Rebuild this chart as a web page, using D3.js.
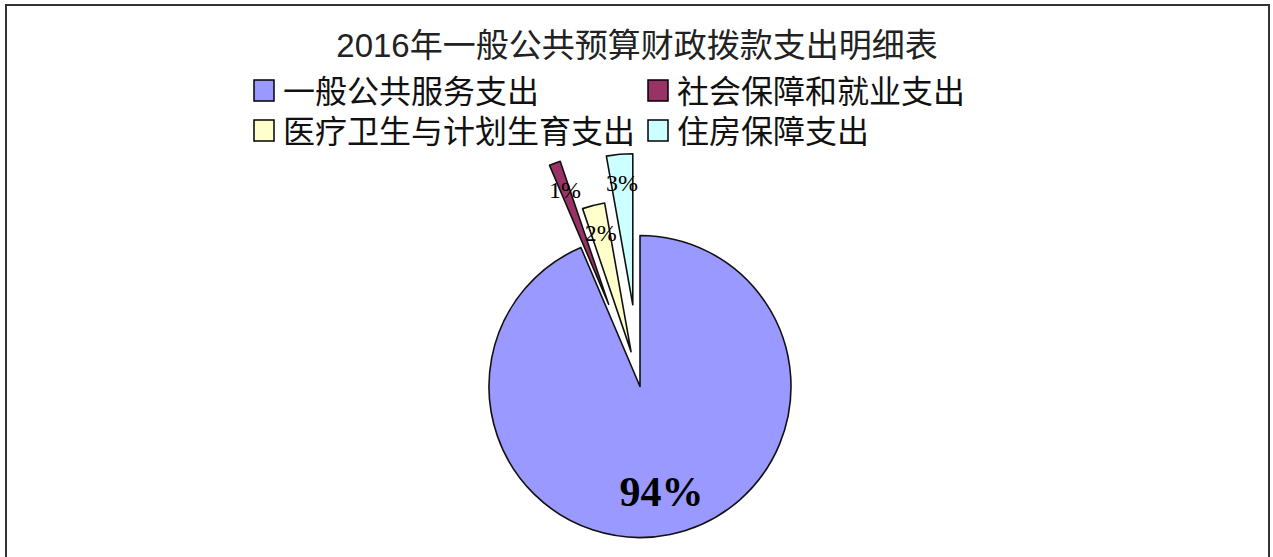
<!DOCTYPE html>
<html><head><meta charset="utf-8">
<script src="https://cdn.jsdelivr.net/npm/d3@7/dist/d3.min.js"></script>
<style>html,body{margin:0;padding:0;background:#fff;}svg{display:block;}</style>
</head><body>
<script>
const title = "2016年一般公共预算财政拨款支出明细表";
const categories = ["一般公共服务支出", "社会保障和就业支出", "医疗卫生与计划生育支出", "住房保障支出"];
const values = [93.6, 1.2, 2.4, 2.8];
const labels = ["94%", "1%", "2%", "3%"];
const colors = ["#9999FF", "#993366", "#FFFFCC", "#CCFFFF"];
const explode = [0, 88, 36, 82];

const W = 1273, H = 557;
const svg = d3.select("body").append("svg").attr("width", W).attr("height", H);
svg.append("rect").attr("width", W).attr("height", H).attr("fill", "#fff");

// frame
const frame = svg.append("g").attr("stroke", "#333").attr("stroke-width", 2).attr("fill", "none");
frame.append("path").attr("d", `M6,${H + 5} L6,5 L1269,5 L1269,${H + 5}`);

const cjk = "'Liberation Sans', 'Noto Sans CJK SC', sans-serif";

// title
svg.append("text").attr("x", 637).attr("y", 56.5).attr("text-anchor", "middle")
  .attr("font-family", cjk).attr("font-size", 33).attr("fill", "#222")
  .text(title);

// legend
const legX = [254, 648], legY = [80, 120];
const leg = svg.append("g");
categories.forEach((c, i) => {
  const x = legX[i % 2], y = legY[Math.floor(i / 2)];
  leg.append("rect").attr("x", x).attr("y", y).attr("width", 20).attr("height", 21)
    .attr("fill", colors[i]).attr("stroke", "#000").attr("stroke-width", 1.5);
  leg.append("text").attr("x", x + 29).attr("y", y + 22.5)
    .attr("font-family", cjk).attr("font-size", 32).attr("fill", "#111")
    .text(c);
});

// pie
const cx = 640, cy = 386.5, R = 151;
const pie = d3.pie().sort(null).value(d => d).startAngle(0).endAngle(2 * Math.PI);
const arcs = pie(values);
const arc = d3.arc().innerRadius(0).outerRadius(R);
const g = svg.append("g").attr("transform", `translate(${cx},${cy})`);
const off = (d, i) => {
  const a = (d.startAngle + d.endAngle) / 2;
  return [Math.sin(a) * explode[i], -Math.cos(a) * explode[i]];
};
g.selectAll("path.slice").data(arcs).enter().append("path")
  .attr("class", "slice")
  .attr("transform", (d, i) => { const o = off(d, i); return `translate(${o[0]},${o[1]})`; })
  .attr("d", arc)
  .attr("fill", (d, i) => colors[i])
  .attr("stroke", "#111").attr("stroke-width", 1.6).attr("stroke-linejoin", "round");

const labelR = [0.715, 0.81, 0.81, 0.81];
const fontSz = [42, 24, 24, 24];
const fontW = ["bold", "normal", "normal", "normal"];
g.selectAll("text.lbl").data(arcs).enter().append("text")
  .attr("class", "lbl")
  .attr("x", (d, i) => { const a = (d.startAngle + d.endAngle) / 2; return off(d, i)[0] + Math.sin(a) * R * labelR[i]; })
  .attr("y", (d, i) => { const a = (d.startAngle + d.endAngle) / 2; return off(d, i)[1] - Math.cos(a) * R * labelR[i]; })
  .attr("text-anchor", "middle").attr("dominant-baseline", "central")
  .attr("font-family", "'Liberation Serif', 'DejaVu Serif', serif")
  .attr("font-size", (d, i) => fontSz[i]).attr("font-weight", (d, i) => fontW[i]).attr("fill", "#000")
  .text((d, i) => labels[i]);
</script>
</body></html>
